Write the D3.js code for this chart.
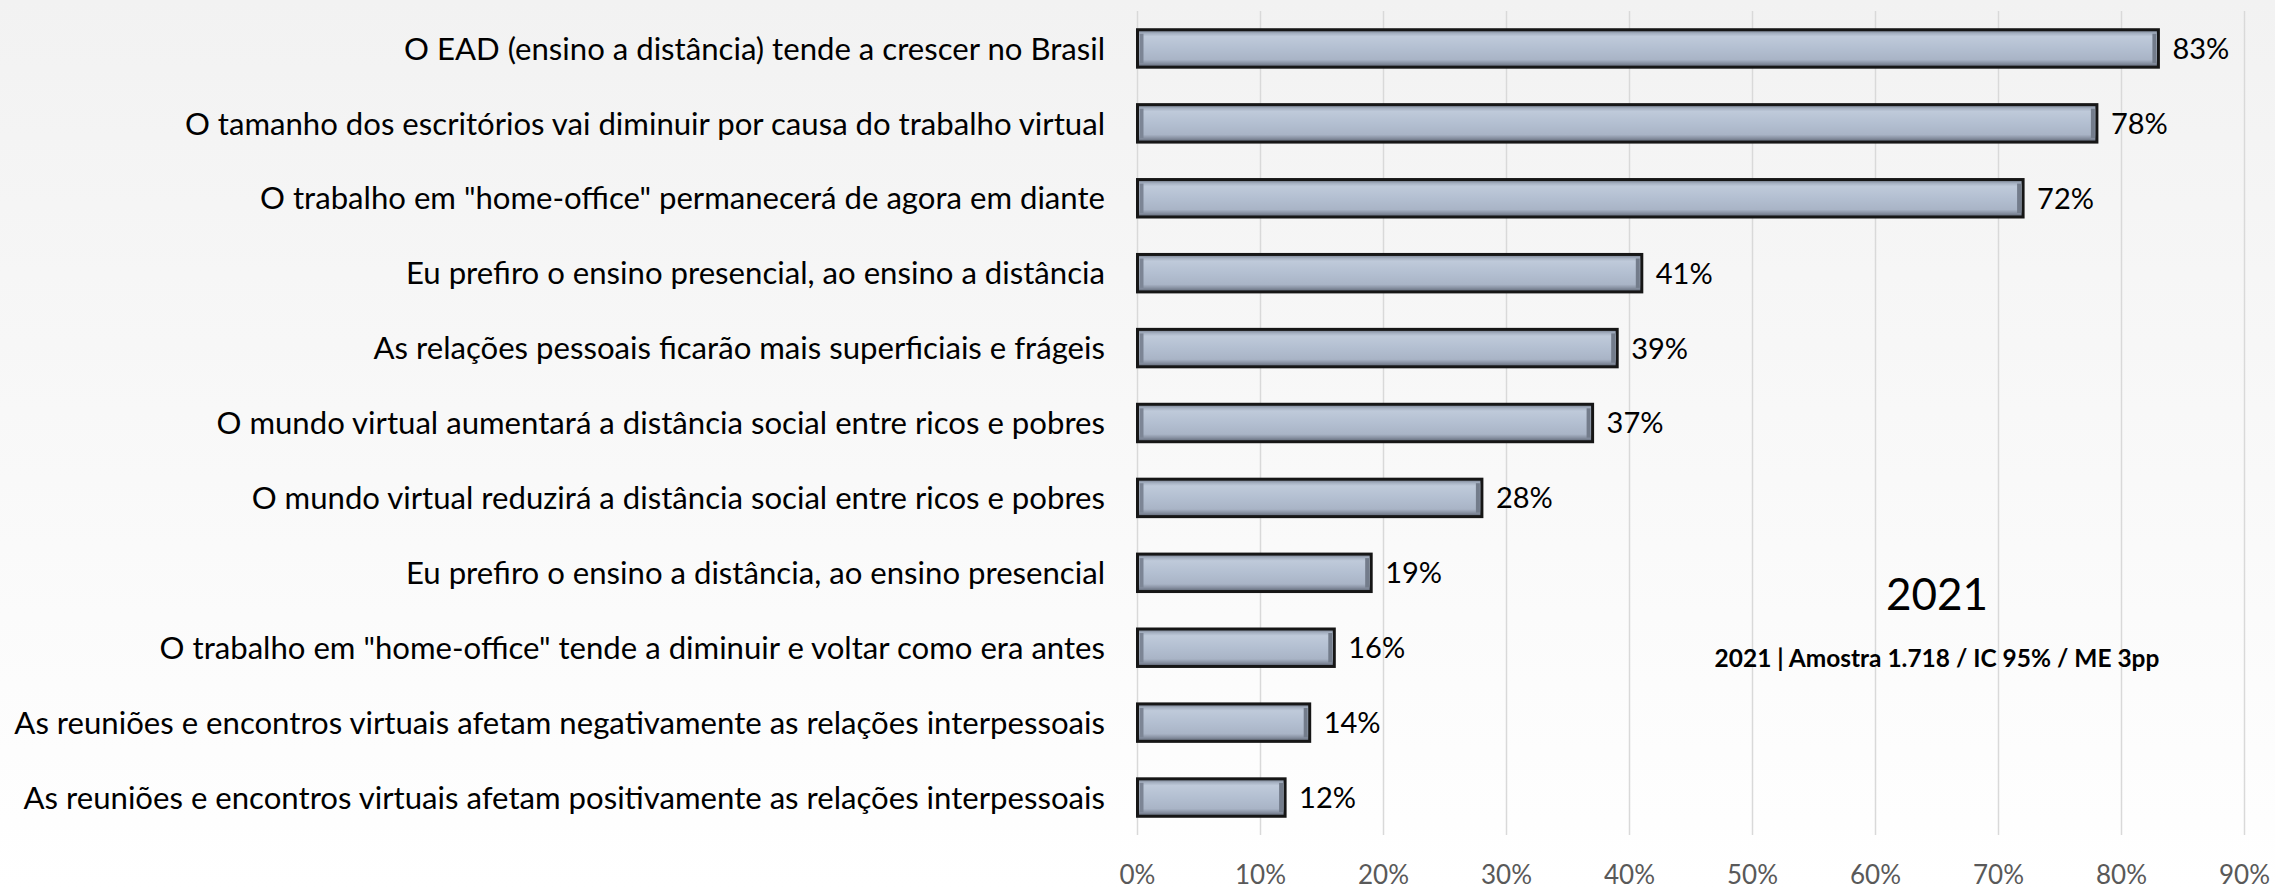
<!DOCTYPE html>
<html>
<head>
<meta charset="utf-8">
<script src="https://cdn.jsdelivr.net/npm/d3@7"></script>
<style>
  html, body { margin: 0; padding: 0; background: #fff; }
  svg text { font-family: Lato, "Open Sans", sans-serif; }
</style>
</head>
<body>
<div id="chart"></div>
<script>
const categories = [
    "O EAD (ensino a distância) tende a crescer no Brasil",
    "O tamanho dos escritórios vai diminuir por causa do trabalho virtual",
    "O trabalho em \"home-office\" permanecerá de agora em diante",
    "Eu prefiro o ensino presencial, ao ensino a distância",
    "As relações pessoais ficarão mais superficiais e frágeis",
    "O mundo virtual aumentará a distância social entre ricos e pobres",
    "O mundo virtual reduzirá a distância social entre ricos e pobres",
    "Eu prefiro o ensino a distância, ao ensino presencial",
    "O trabalho em \"home-office\" tende a diminuir e voltar como era antes",
    "As reuniões e encontros virtuais afetam negativamente as relações interpessoais",
    "As reuniões e encontros virtuais afetam positivamente as relações interpessoais"
];
const values = [83, 78, 72, 41, 39, 37, 28, 19, 16, 14, 12];
const tickValues = [0, 10, 20, 30, 40, 50, 60, 70, 80, 90];
const yearLabel = "2021";
const sampleNote = "2021 | Amostra 1.718 / IC 95% / ME 3pp";

const WIDTH = 2275, HEIGHT = 889;
const PLOT_LEFT = 1137.5, PLOT_RIGHT = 2244.5, PLOT_TOP = 11, PLOT_BOTTOM = 835;

const svg = d3.select("#chart").append("svg")
    .attr("width", WIDTH).attr("height", HEIGHT);

const defs = svg.append("defs");
const bg = defs.append("linearGradient").attr("id", "bg")
    .attr("x1", 0).attr("y1", 0).attr("x2", 0).attr("y2", 1);
bg.append("stop").attr("offset", "0%").attr("stop-color", "#f2f2f2");
bg.append("stop").attr("offset", "100%").attr("stop-color", "#ffffff");

const barGrad = defs.append("linearGradient").attr("id", "barGrad")
    .attr("x1", 0).attr("y1", 0).attr("x2", 0).attr("y2", 1);
[["0%", "#6f7887"], ["10%", "#a6b1c2"], ["18%", "#bfcada"], ["50%", "#b3bfd1"],
 ["80%", "#a9b4c6"], ["90%", "#868fa0"], ["100%", "#5a6270"]].forEach(s => {
    barGrad.append("stop").attr("offset", s[0]).attr("stop-color", s[1]);
});

svg.append("rect").attr("width", WIDTH).attr("height", HEIGHT).attr("fill", "url(#bg)");

const x = d3.scaleLinear().domain([0, 90]).range([PLOT_LEFT, PLOT_RIGHT]);
const y = d3.scaleBand().domain(categories).range([PLOT_TOP, PLOT_BOTTOM])
    .paddingInner(0.5).paddingOuter(0.25);

// gridlines
svg.append("g").selectAll("line").data(tickValues).join("line")
    .attr("x1", d => x(d)).attr("x2", d => x(d))
    .attr("y1", PLOT_TOP).attr("y2", PLOT_BOTTOM)
    .attr("stroke", "#d9d9d9").attr("stroke-width", 1.5);

// x axis tick labels
svg.append("g").selectAll("text").data(tickValues).join("text")
    .attr("x", d => x(d)).attr("y", 884)
    .attr("text-anchor", "middle")
    .attr("font-size", 26).attr("fill", "#595959")
    .text(d => d + "%");

// bars
const bars = svg.append("g").selectAll("g").data(values).join("g")
    .attr("transform", (d, i) => `translate(${x(0)},${y(categories[i])})`);

bars.append("rect")
    .attr("width", d => x(d) - x(0)).attr("height", y.bandwidth())
    .attr("fill", "url(#barGrad)")
    .attr("stroke", "#161616").attr("stroke-width", 3);

// inner bevel edges left / right
bars.append("rect")
    .attr("x", 2).attr("y", 4).attr("width", 4).attr("height", y.bandwidth() - 8)
    .attr("fill", "#7c8595");
bars.append("rect")
    .attr("x", d => x(d) - x(0) - 6).attr("y", 4).attr("width", 4).attr("height", y.bandwidth() - 8)
    .attr("fill", "#737c8b");

// value labels
svg.append("g").selectAll("text").data(values).join("text")
    .attr("x", d => x(d) + 14)
    .attr("y", (d, i) => y(categories[i]) + y.bandwidth() / 2)
    .attr("dy", "0.36em")
    .attr("font-size", 29).attr("fill", "#000")
    .text(d => d + "%");

// category labels
const catLabels = svg.append("g").selectAll("text").data(categories).join("text")
    .attr("x", 1105)
    .attr("y", d => y(d) + y.bandwidth() / 2)
    .attr("dy", "0.36em")
    .attr("text-anchor", "end")
    .attr("font-size", 28).attr("fill", "#000")
    .text(d => d);

// fit label size so the longest one spans like the reference
let maxLen = 0;
catLabels.each(function () { maxLen = Math.max(maxLen, this.getComputedTextLength()); });
catLabels.attr("font-size", 28 * 1091 / maxLen);

// annotation
svg.append("text").attr("x", 1937).attr("y", 610)
    .attr("text-anchor", "middle").attr("font-size", 44).attr("fill", "#000")
    .text(yearLabel);

const note = svg.append("text").attr("x", 1937).attr("y", 667)
    .attr("text-anchor", "middle").attr("font-size", 23)
    .attr("font-weight", "bold").attr("fill", "#000")
    .text(sampleNote);
const noteLen = note.node().getComputedTextLength();
note.attr("font-size", 23 * 445 / noteLen);
</script>
</body>
</html>
